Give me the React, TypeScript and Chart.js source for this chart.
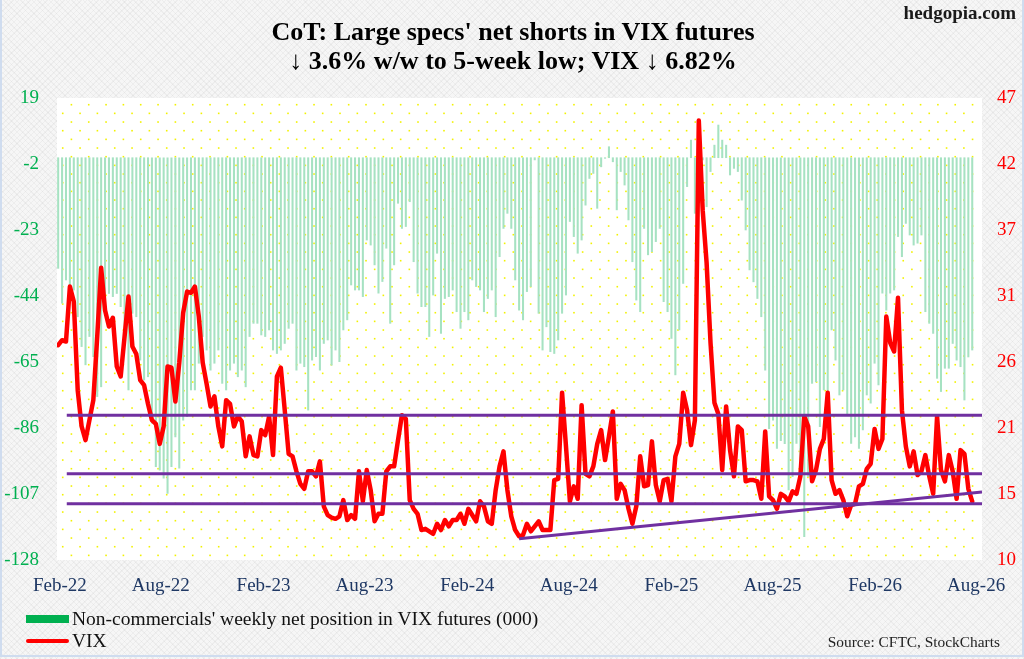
import React, { useEffect, useRef } from "react";
import { Chart, registerables } from "chart.js";

Chart.register(...registerables);

// ---------- data ----------
const firstWeek = "2022-01-29"; // first weekly observation
const xTickDates = [
  "2022-02-01", "2022-08-01", "2023-02-01", "2023-08-01", "2024-02-01",
  "2024-08-01", "2025-02-01", "2025-08-01", "2026-02-01", "2026-08-01",
];
const xTickLabels = [
  "Feb-22", "Aug-22", "Feb-23", "Aug-23", "Feb-24",
  "Aug-24", "Feb-25", "Aug-25", "Feb-26", "Aug-26",
];
const leftTicks = [-128, -107, -86, -65, -44, -23, -2, 19];
const rightTickLabels = ["10", "15", "21", "26", "31", "37", "42", "47"];

// Non-commercials' weekly net position in VIX futures (000)
const netPositions = [
  -35.2, -46.3, -38.9, -45.3, -42.1, -50.6, -60.1, -65.9, -56.9, -63.3,
  -76.0, -72.9, -48.5, -43.2, -44.2, -43.2, -47.4, -56.4, -73.9, -49.5,
  -50.6, -64.4, -70.7, -69.7, -84.5, -98.3, -99.4, -102.0, -106.8, -98.3,
  -88.8, -98.8, -83.5, -82.4, -73.9, -73.9, -65.4, -56.9, -61.2, -67.6,
  -65.4, -61.2, -71.8, -73.9, -67.6, -65.4, -69.7, -67.6, -72.9, -56.9,
  -52.7, -52.7, -56.4, -56.9, -54.8, -61.2, -62.3, -61.2, -59.1, -54.3,
  -52.7, -67.6, -65.4, -66.5, -80.3, -64.4, -63.3, -67.6, -59.1, -58.0,
  -66.0, -61.2, -64.9, -54.8, -51.6, -40.5, -42.1, -42.1, -44.2, -26.2,
  -27.8, -34.1, -43.1, -39.4, -28.8, -52.7, -34.1, -14.5, -22.5, -21.9,
  -14.0, -33.1, -43.1, -47.4, -47.4, -56.9, -43.7, -30.4, -55.9, -44.8,
  -44.2, -42.1, -49.0, -54.3, -49.0, -51.6, -38.9, -41.0, -42.1, -49.0,
  -44.8, -42.1, -50.6, -31.5, -22.5, -17.7, -22.5, -38.9, -48.5, -51.6,
  -42.6, -41.0, -0.7, -49.5, -61.2, -53.8, -61.7, -62.3, -58.0, -49.5,
  -43.7, -20.3, -25.1, -30.4, -26.2, -15.1, -6.6, -5.0, -16.1, -2.9,
  -0.2, 3.5, -1.3, -16.6, -4.4, -8.7, -19.8, -33.1, -45.3, -49.0,
  -22.5, -30.9, -29.9, -26.7, -22.5, -45.8, -49.0, -57.5, -69.1, -54.8,
  -40.0, -9.2, 5.6, -17.7, -8.0, -0.7, -15.6, -4.4, 4.0, 10.4,
  5.6, 4.0, -5.5, -3.4, -4.4, -13.5, -23.0, -35.7, -39.5, -44.8,
  -50.6, -67.6, -86.2, -83.5, -92.5, -90.0, -91.0, -105.7, -101.5, -90.9,
  -99.4, -120.6, -101.5, -71.8, -71.3, -85.6, -73.9, -76.0, -54.8, -64.4,
  -75.5, -73.9, -81.9, -90.9, -88.8, -92.5, -86.6, -75.5, -78.1, -65.4,
  -72.3, -43.1, -48.5, -43.1, -42.1, -25.1, -31.5, -20.9, -24.6, -27.8,
  -27.2, -24.6, -49.0, -52.7, -55.9, -70.2, -74.4, -67.0, -67.0, -59.1,
  -64.4, -66.5, -77.1, -63.4, -61.2,
];

// VIX weekly close
const vix = [
  27.2, 27.6, 27.5, 31.9, 30.7, 23.6, 20.7, 19.6, 21.2, 22.8,
  27.9, 33.4, 30.0, 28.7, 29.4, 25.5, 24.7, 27.9, 31.1, 27.1,
  26.5, 24.4, 24.0, 22.5, 21.2, 20.9, 19.3, 20.7, 25.5, 25.4,
  22.7, 25.8, 29.8, 31.5, 31.4, 31.9, 29.5, 25.8, 24.1, 22.3,
  23.1, 20.7, 19.1, 22.8, 22.5, 20.7, 21.5, 21.1, 18.3, 19.9,
  18.4, 18.3, 20.4, 20.0, 21.5, 18.4, 24.7, 25.4, 22.0, 18.5,
  18.3, 17.1, 16.1, 15.7, 17.1, 17.1, 16.7, 17.9, 14.3, 13.6,
  13.4, 13.3, 13.5, 14.8, 13.2, 13.6, 13.3, 17.1, 14.7, 17.2,
  15.6, 13.1, 13.7, 13.7, 17.1, 17.5, 17.5, 19.6, 21.6, 21.3,
  14.8, 14.1, 13.7, 12.4, 12.5, 12.3, 12.1, 12.9, 12.4, 13.2,
  12.7, 13.2, 13.2, 13.7, 12.9, 14.1, 13.6, 13.1, 14.7, 14.3,
  13.1, 12.9, 15.6, 17.5, 18.7, 15.6, 13.5, 12.4, 11.9, 12.0,
  12.9, 12.3, 12.7, 13.1, 12.4, 12.4, 12.4, 16.4, 16.5, 23.4,
  19.1, 14.7, 15.9, 14.9, 22.4, 16.9, 16.7, 17.5, 19.3, 20.4,
  18.0, 19.9, 21.9, 14.9, 16.1, 15.6, 14.1, 12.9, 14.3, 18.3,
  15.9, 16.0, 19.5, 16.0, 14.7, 16.4, 16.5, 14.7, 18.3, 19.3,
  23.4, 22.0, 19.2, 21.2, 45.2, 38.0, 33.8, 27.4, 22.6, 21.7,
  17.2, 22.3, 18.8, 16.7, 20.7, 20.4, 16.3, 16.4, 16.4, 16.3,
  14.9, 20.3, 15.1, 14.8, 14.1, 15.3, 15.1, 14.7, 15.5, 15.3,
  16.7, 21.5, 20.7, 16.3, 17.2, 18.9, 19.7, 23.4, 16.4, 15.3,
  15.6, 14.8, 13.5, 14.4, 14.5, 15.9, 16.1, 17.3, 17.7, 20.5,
  18.9, 19.7, 29.5, 27.4, 26.7, 31.0, 22.0, 19.1, 17.5, 18.7,
  16.8, 17.1, 18.4, 16.7, 15.3, 21.5, 17.2, 16.3, 18.4, 17.1,
  14.9, 18.8, 18.5, 15.7, 14.7,
];

// VIX horizontal levels and rising trendline (week index, VIX level)
const vixLevels = [21.6, 16.9, 14.5];
const levelStartWeek = 2.2;
const trendStartWeek = 118;
const trendStartValue = 11.7;
const trendEndWeek = 236.5;
const trendEndValue = 15.45;

const xMin = -0.3;
const xMax = 236.5;

// ---------- helpers ----------
const SERIF = '"Liberation Serif", "Times New Roman", Times, serif';
const DAY = 86400000;
const weekIndex = (d: string) =>
  (new Date(d + "T00:00:00Z").getTime() - new Date(firstWeek + "T00:00:00Z").getTime()) / (7 * DAY);
const xTickPositions = xTickDates.map(weekIndex);
const rightTickValues = rightTickLabels.map((_, i) => 10 + (i * (47 - 10)) / (rightTickLabels.length - 1));

const plotBackground = {
  id: "plotBackground",
  beforeDraw(chart: any) {
    const { ctx, chartArea } = chart;
    if (!chartArea) return;
    const { left, top, right, bottom } = chartArea;
    ctx.save();
    ctx.fillStyle = "#ffffff";
    ctx.fillRect(left, top, right - left, bottom - top);
    ctx.fillStyle = "#f2f200";
    const dx = 17.33;
    const dy = 8.667;
    let row = 0;
    for (let y = top + 6.7; y < bottom - 2; y += dy, row++) {
      const off = row % 2 === 0 ? 14.4 : 5.73;
      for (let x = left + off; x < right - 1; x += dx) {
        ctx.fillRect(x - 0.8, y - 0.8, 1.6, 1.6);
      }
    }
    ctx.restore();
  },
};

export default function App() {
  const ref = useRef<HTMLCanvasElement>(null);

  useEffect(() => {
    if (!ref.current) return;
    const levelSets = vixLevels.map((lv) => ({
      type: "line" as const,
      data: [
        { x: levelStartWeek, y: lv },
        { x: xMax, y: lv },
      ],
      yAxisID: "y1",
      borderColor: "#7030a0",
      borderWidth: 3,
      pointRadius: 0,
      order: 0,
    }));
    const chart = new Chart(ref.current, {
      type: "bar",
      data: {
        datasets: [
          ...levelSets,
          {
            type: "line" as const,
            data: [
              { x: trendStartWeek, y: trendStartValue },
              { x: trendEndWeek, y: trendEndValue },
            ],
            yAxisID: "y1",
            borderColor: "#7030a0",
            borderWidth: 3,
            pointRadius: 0,
            order: 0,
          },
          {
            type: "line" as const,
            label: "VIX",
            data: vix.map((v, i) => ({ x: i, y: v })),
            yAxisID: "y1",
            borderColor: "#ff0000",
            borderWidth: 4.5,
            pointRadius: 0,
            borderJoinStyle: "round",
            borderCapStyle: "round",
            tension: 0,
            order: 1,
          },
          {
            type: "bar" as const,
            label: "Non-commercials' weekly net position in VIX futures (000)",
            data: netPositions.map((v, i) => ({ x: i, y: v })),
            yAxisID: "y",
            backgroundColor: "#a6e2c2",
            barThickness: 1.4,
            order: 2,
          },
        ] as any,
      },
      options: {
        responsive: false,
        animation: false,
        events: [],
        layout: { padding: { top: 98, bottom: 59, left: 0, right: 0 } },
        plugins: {
          legend: { display: false },
          tooltip: { enabled: false },
          title: { display: false },
        },
        scales: {
          x: {
            type: "linear",
            min: xMin,
            max: xMax,
            offset: false,
            grid: { display: false, drawTicks: false },
            border: { display: false },
            afterBuildTicks: (s: any) => {
              s.ticks = xTickPositions.map((v) => ({ value: v }));
            },
            afterFit: (s: any) => {
              s.height = 40;
            },
            ticks: {
              autoSkip: false,
              maxRotation: 0,
              padding: 15,
              color: "#1f3864",
              font: { family: SERIF, size: 19 },
              callback: (_v: any, i: number) => xTickLabels[i],
            },
          },
          y: {
            type: "linear",
            position: "left",
            min: -128,
            max: 19,
            grid: { display: false, drawTicks: false },
            border: { display: false },
            afterBuildTicks: (s: any) => {
              s.ticks = leftTicks.map((v) => ({ value: v }));
            },
            afterFit: (s: any) => {
              s.width = 57;
            },
            ticks: {
              padding: 18,
              color: "#00b050",
              font: { family: SERIF, size: 19 },
              callback: (v: any) => String(v),
            },
          },
          y1: {
            type: "linear",
            position: "right",
            min: 10,
            max: 47,
            grid: { display: false, drawTicks: false },
            border: { display: false },
            afterBuildTicks: (s: any) => {
              s.ticks = rightTickValues.map((v) => ({ value: v }));
            },
            afterFit: (s: any) => {
              s.width = 42;
            },
            ticks: {
              padding: 15,
              color: "#ff0000",
              font: { family: SERIF, size: 19 },
              callback: (_v: any, i: number) => rightTickLabels[i],
            },
          },
        },
      },
      plugins: [plotBackground],
    });
    return () => chart.destroy();
  }, []);

  return (
    <div
      style={{
        position: "absolute",
        left: 0,
        top: 0,
        width: 1024,
        height: 659,
        overflow: "hidden",
        fontFamily: SERIF,
        backgroundColor: "#f6f6f6",
        backgroundImage:
          "repeating-linear-gradient(45deg, rgba(0,0,0,0.035) 0 1px, transparent 1px 4px), repeating-linear-gradient(-45deg, rgba(0,0,0,0.035) 0 1px, transparent 1px 4px)",
      }}
    >
      <div
        style={{
          position: "absolute",
          left: 0,
          top: 0,
          width: 1020,
          height: 655,
          borderLeft: "2px solid #cfdcef",
          borderRight: "2px solid #cfdcef",
          borderBottom: "2px solid #cfdcef",
        }}
      />
      <canvas
        ref={ref}
        width={1024}
        height={659}
        style={{ position: "absolute", left: 0, top: 0, width: 1024, height: 659 }}
      />
      <div
        style={{
          position: "absolute",
          left: 0,
          top: 17,
          width: 1026,
          textAlign: "center",
          fontWeight: "bold",
          fontSize: 26,
          lineHeight: "29px",
          color: "#000",
        }}
      >
        <div>CoT: Large specs' net shorts in VIX futures</div>
        <div>↓ 3.6% w/w to 5-week low; VIX ↓ 6.82%</div>
      </div>
      <div
        style={{
          position: "absolute",
          right: 8,
          top: 2,
          fontWeight: "bold",
          fontSize: 19,
          lineHeight: "22px",
          color: "#1a1a1a",
        }}
      >
        hedgopia.com
      </div>
      <div style={{ position: "absolute", left: 26, top: 608, fontSize: 19.5, lineHeight: "22px", color: "#111" }}>
        <div style={{ display: "flex", alignItems: "center", height: 22 }}>
          <span style={{ display: "inline-block", width: 43, height: 8, background: "#00b050", marginRight: 3 }} />
          <span>Non-commercials' weekly net position in VIX futures (000)</span>
        </div>
        <div style={{ display: "flex", alignItems: "center", height: 22 }}>
          <span
            style={{
              display: "inline-block",
              width: 43,
              height: 4,
              borderRadius: 2,
              background: "#ff0000",
              marginRight: 3,
            }}
          />
          <span>VIX</span>
        </div>
      </div>
      <div
        style={{
          position: "absolute",
          right: 24,
          top: 633,
          fontSize: 15.4,
          lineHeight: "18px",
          color: "#222",
        }}
      >
        Source: CFTC, StockCharts
      </div>
    </div>
  );
}
